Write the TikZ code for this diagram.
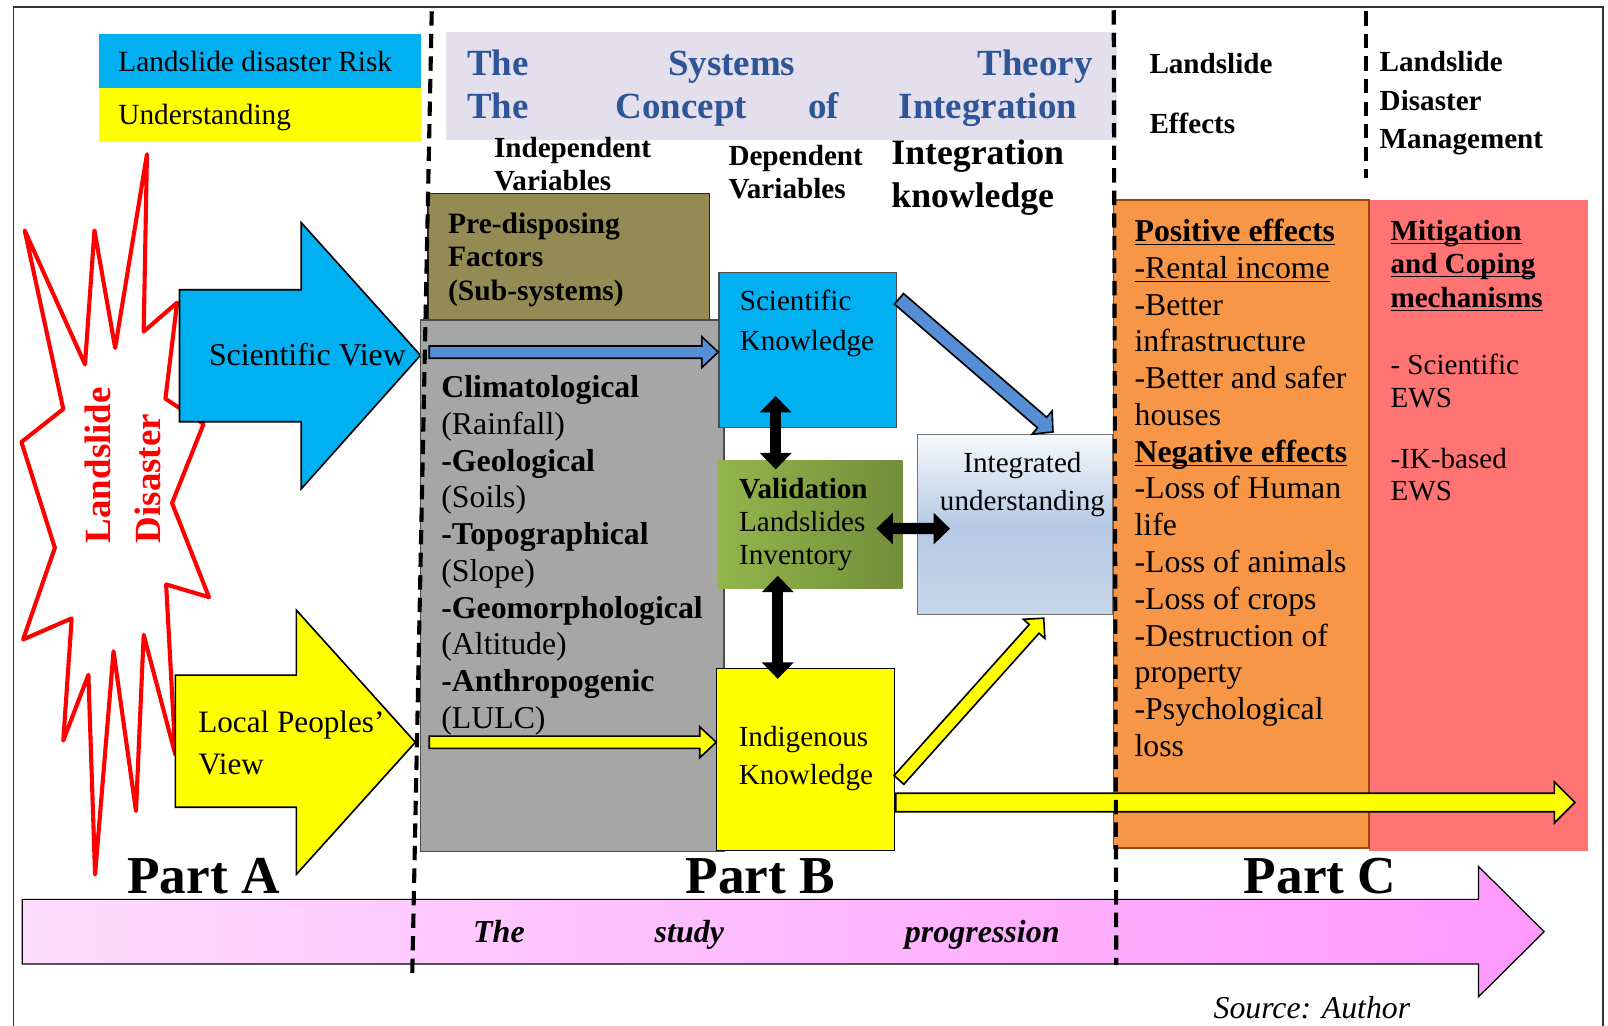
\documentclass[tikz,border=0pt]{standalone}
\usepackage{fontspec}
\setmainfont{Liberation Serif}
\usetikzlibrary{arrows.meta,calc,positioning,fit}
\definecolor{skyblue}{RGB}{0,176,240}
\definecolor{legendyellow}{RGB}{255,255,0}
\definecolor{titlelilac}{RGB}{228,223,236}
\definecolor{titleblue}{RGB}{46,85,151}
\definecolor{olivebox}{RGB}{148,138,84}
\definecolor{factorgray}{RGB}{166,166,166}
\definecolor{flowblue}{RGB}{85,142,213}
\definecolor{greenlight}{RGB}{147,181,76}
\definecolor{greendark}{RGB}{114,142,58}
\definecolor{effectorange}{RGB}{247,150,70}
\definecolor{effectline}{RGB}{152,72,6}
\definecolor{mitigred}{RGB}{255,115,115}
\definecolor{intgtop}{RGB}{246,249,252}
\definecolor{intgmid}{RGB}{183,202,228}
\definecolor{intgbot}{RGB}{198,214,235}
\definecolor{pinkleft}{RGB}{253,220,253}
\definecolor{pinkright}{RGB}{255,153,255}
\definecolor{starred}{RGB}{255,0,0}

\newcommand{\undl}[1]{\underline{\smash{#1}}\vphantom{#1}}
% block arrow: [style]{from}{to}{half body}{half head}{head length}
\newcommand{\blockarrow}[6][]{%
  \coordinate (bah) at ($(#3)!#6!(#2)$);
  \draw[#1] ($(#2)!#4!90:(#3)$) -- ($(bah)!#4!-90:(#2)$) -- ($(bah)!#5!-90:(#2)$) -- (#3)
    -- ($(bah)!#5!90:(#2)$) -- ($(bah)!#4!90:(#2)$) -- ($(#2)!#4!-90:(#3)$) -- cycle;}

\begin{document}
\begin{tikzpicture}[x=0.5pt,y=-0.5pt,
    box/.style={inner sep=0pt, line width=0.6pt},
    txt/.style={inner sep=0pt, anchor=north west, align=left},
    lbl/.style={inner sep=0pt, anchor=base west},
    bigarrow/.style={draw=black, line width=0.8pt, line join=miter},
    blockflow/.style={draw=black, line width=0.8pt, line join=miter},
    dblarrow/.style={line width=5.5pt, {Triangle[length=8pt,width=15pt]}-{Triangle[length=8pt,width=15pt]}},
    sepline/.style={line width=2pt, dash pattern=on 7pt off 4pt},
    titleword/.style={lbl, text=titleblue, font=\fontsize{18}{21}\selectfont\bfseries},
    partlbl/.style={lbl, font=\fontsize{26}{30}\selectfont\bfseries},
    progword/.style={lbl, font=\fontsize{15.6}{18}\selectfont\bfseries\itshape}]
  \useasboundingbox (0,0) rectangle (1568,1000);
  \draw[line width=0.7pt, black!80] (13,1000) -- (13,7) -- (1563,7) -- (1563,1000);

  % study progression arrow
  \draw[left color=pinkleft, right color=pinkright, draw=black, line width=0.6pt]
    (21.6,877) -- (1441.8,877) -- (1441.8,845) -- (1505.7,908.5) -- (1441.8,971.9)
    -- (1441.8,940) -- (21.6,940) -- cycle;

  % Part A: disaster star and the two views
  \draw[starred, line width=2pt, fill=white, line join=round]
    (143.3,150.4) -- (140.1,323.3) -- (172.7,295.1) -- (161.3,388.8) -- (198.5,413.4)
    -- (167.8,490.6) -- (203.8,582.3) -- (162,569.9) -- (171,736) -- (140.1,619)
    -- (132.6,790.9) -- (110.7,635) -- (92.7,852.8) -- (86.2,658) -- (61.7,722.2)
    -- (69.9,603) -- (22.5,623.6) -- (53.5,534.2) -- (20.9,431) -- (61.7,398.9)
    -- (24.1,224.7) -- (82.9,355.4) -- (92.1,224.7) -- (112.3,339.3) -- cycle;
  \node[rotate=90, anchor=west, inner sep=0pt, text=starred, font=\fontsize{18}{21}\selectfont\bfseries] (stara) at (95,530) {Landslide};
  \node[rotate=90, anchor=west, inner sep=0pt, text=starred, font=\fontsize{18}{21}\selectfont\bfseries] (starb) at (144,530) {Disaster};

  \draw[bigarrow, fill=skyblue] (175,282.5) -- (293.7,282.5) -- (293.7,217) -- (410,346.5)
    -- (293.7,476.8) -- (293.7,411.3) -- (175,411.3) -- cycle;
  \node[lbl, font=\fontsize{15.5}{18}\selectfont] (sciview) at (203.4,356) {Scientific View};
  \draw[bigarrow, fill=legendyellow] (171,658.3) -- (289,658.3) -- (289,595) -- (405,723.8)
    -- (289,852.6) -- (289,787.2) -- (171,787.2) -- cycle;
  \node[txt, font=\fontsize{15.2}{20.3}\selectfont] (localview) at (193,693) {Local Peoples’\\View};

  % legend
  \node[box, fill=skyblue, fit={(96.5,33.2) (411,85.5)}] (riskbox) {};
  \node[box, fill=legendyellow, fit={(96.5,85.5) (411,138)}] (undbox) {};
  \node[lbl, font=\fontsize{14.3}{17}\selectfont] (risktxt) at (115,69.6) {Landslide disaster Risk};
  \node[lbl, font=\fontsize{14.3}{17}\selectfont] (undtxt) at (115,121.5) {Understanding};

  % title
  \node[box, fill=titlelilac, fit={(435,31.5) (1089,136.5)}] (titlebox) {};
  \node[titleword] (tw1) at (455,74) {The};
  \node[titleword] (tw2) at (651,74) {Systems};
  \node[titleword] (tw3) at (953,74) {Theory};
  \node[titleword] (tw4) at (455,116) {The};
  \node[titleword] (tw5) at (600,116) {Concept};
  \node[titleword] (tw6) at (787.5,116) {of};
  \node[titleword] (tw7) at (876,116) {Integration};

  % column heads
  \node[txt, font=\fontsize{14.2}{16.25}\selectfont\bfseries] (indep) at (481.4,133) {Independent\\Variables};
  \node[txt, font=\fontsize{14.2}{16.25}\selectfont\bfseries] (dep) at (710,141) {Dependent\\Variables};
  \node[txt, font=\fontsize{17.4}{21}\selectfont\bfseries] (integ) at (868.9,135.7) {Integration\\knowledge};
  \node[txt, font=\fontsize{14.2}{29.3}\selectfont\bfseries] (effhead) at (1120.5,51.7) {Landslide\\Effects};
  \node[txt, font=\fontsize{14.2}{18.75}\selectfont\bfseries] (mgmthead) at (1345,50) {Landslide\\Disaster\\Management};

  % Part B boxes
  \node[box, draw=black!85, fill=olivebox, fit={(417.4,189) (691.7,312)}] (predisp) {};
  \node[txt, font=\fontsize{14.4}{16.45}\selectfont\bfseries] (predisptxt) at (436.6,207) {Pre-disposing\\Factors\\(Sub-systems)};
  \node[box, draw=black!70, fill=factorgray, fit={(410,312) (706,830)}] (factors) {};
  \node[txt, font=\fontsize{15.5}{17.9}\selectfont] (factortxt) at (430,366)
    {\textbf{Climatological}\\(Rainfall)\\\textbf{-Geological}\\(Soils)\\\textbf{-Topographical}\\(Slope)\\
     \textbf{-Geomorphological}\\(Altitude)\\\textbf{-Anthropogenic}\\(LULC)};

  \node[box, draw=black!70, fill=skyblue, fit={(701,266) (874,417)}] (sci) {};
  \node[txt, font=\fontsize{14.2}{19.6}\selectfont] (scitxt) at (721,282) {Scientific\\Knowledge};
  \node[box, left color=greenlight, right color=greendark, fit={(700,448.8) (880,573.8)}] (val) {};
  \node[txt, font=\fontsize{14.2}{16}\selectfont] (valtxt) at (720.4,466) {\textbf{Validation}\\Landslides\\Inventory};
  \node[box, draw=black, fill=legendyellow, fit={(699,652) (872,829)}] (ind) {};
  \node[txt, font=\fontsize{14.2}{18.65}\selectfont] (indtxt) at (720,707.5) {Indigenous\\Knowledge};
  \node[box, draw=black!55, top color=intgtop, bottom color=intgbot, middle color=intgmid,
    fit={(894.5,423.8) (1085,599.2)}] (intg) {};
  \node[inner sep=0pt, anchor=north, align=center, font=\fontsize{14.2}{18.65}\selectfont] (intgtxt) at (997,440.7) {Integrated\\understanding};

  % Part C boxes
  \node[box, fill=mitigred, fit={(1335,195) (1548,830)}] (mitig) {};
  \node[box, draw=effectline, fill=effectorange, fit={(1086,195) (1335,827)}] (effects) {};
  \node[txt, font=\fontsize{15.5}{17.93}\selectfont] (effecttxt) at (1106,213.3)
    {\textbf{\undl{Positive effects}}\\\undl{-Rental income}\\-Better\\infrastructure\\-Better and safer\\houses\\
     \textbf{\undl{Negative effects}}\\-Loss of Human\\life\\-Loss of animals\\-Loss of crops\\-Destruction of\\property\\
     -Psychological\\loss};
  \node[txt, font=\fontsize{14.2}{16.25}\selectfont\bfseries] (mitighead) at (1355.5,214.3) {\undl{Mitigation}\\\undl{and Coping}\\\undl{mechanisms}};
  \node[txt, font=\fontsize{14.2}{16.25}\selectfont] (ewsa) at (1355.5,344.3) {- Scientific\\EWS};
  \node[txt, font=\fontsize{14.2}{15.5}\selectfont] (ewsb) at (1355.5,436.9) {-IK-based\\EWS};

  % flows between the parts
  \coordinate (svin) at (418.5,343.4);
  \coordinate (svend) at (sci.west |- svin);
  \blockarrow[fill=flowblue, blockflow]{svin}{svend}{3pt}{7.5pt}{8pt}
  \coordinate (lpin) at (418.5,723.8);
  \coordinate (lpend) at (ind.west |- lpin);
  \blockarrow[fill=legendyellow, blockflow]{lpin}{lpend}{3pt}{7.5pt}{8pt}
  \coordinate (sciout) at ($(sci.north east)+(2,26)$);
  \coordinate (intgin) at ($(intg.north)+(37,-2)$);
  \blockarrow[fill=flowblue, blockflow]{sciout}{intgin}{3.4pt}{7.5pt}{7pt}
  \coordinate (indout) at ($(ind.east)+(4,20)$);
  \coordinate (intgbelow) at ($(intg.south)+(28,3)$);
  \blockarrow[fill=legendyellow, blockflow]{indout}{intgbelow}{3.2pt}{7pt}{7pt}
  \coordinate (longstart) at ($(ind.east)+(1,42)$);
  \coordinate (longend) at (1535.7,782.5);
  \blockarrow[fill=legendyellow, blockflow]{longstart}{longend}{4.5pt}{10pt}{10pt}

  \draw[dblarrow] ($(sci.south west)+(56,-31.5)$) -- ($(val.north west)+(57,9.5)$);
  \draw[dblarrow] ($(val.south west)+(59,-13)$) -- ($(ind.north west)+(60,10.6)$);
  \draw[dblarrow] ($(val.east)+(-26,4)$) -- ($(intg.west)+(32.5,4)$);

  % part separators
  \draw[sepline] (421,11) -- (402,950);
  \draw[sepline] (1086,10) -- (1088.5,941);
  \draw[sepline] (1332,11) -- (1332,174);

  \node[partlbl] (parta) at (123.6,871) {Part A};
  \node[partlbl] (partb) at (668,871) {Part B};
  \node[partlbl] (partc) at (1212.6,871) {Part C};
  \node[progword] (pw1) at (461,918.8) {The};
  \node[progword] (pw2) at (638,918.8) {study};
  \node[progword] (pw3) at (882,918.8) {progression};
  \node[lbl, font=\fontsize{15.5}{18}\selectfont\itshape] (source) at (1183,993) {Source: Author};
\end{tikzpicture}
\end{document}
